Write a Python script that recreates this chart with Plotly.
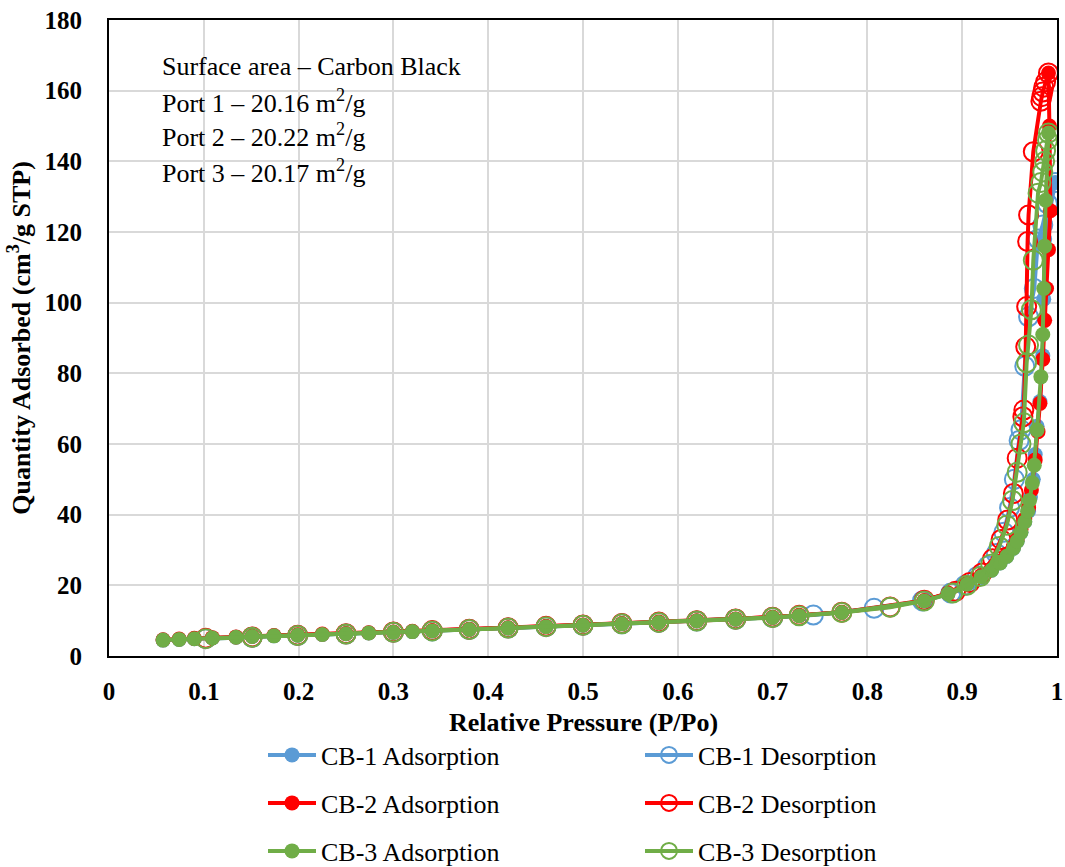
import plotly.graph_objects as go

# ---- isotherm data: relative pressure (P/Po) and quantity adsorbed (cm3/g STP) ----
cb1_ads_x = [0.057, 0.074, 0.090, 0.109, 0.134, 0.151, 0.174, 0.199, 0.225, 0.250, 0.274, 0.300,
             0.320, 0.341, 0.380, 0.421, 0.461, 0.500, 0.541, 0.580, 0.620, 0.661, 0.700, 0.728,
             0.773, 0.860, 0.885, 0.905, 0.920, 0.931, 0.940, 0.947, 0.954, 0.958, 0.962, 0.966,
             0.970, 0.972, 0.975, 0.977, 0.979, 0.982, 0.985, 0.986, 0.987, 0.998]
cb1_ads_y = [4.5, 4.7, 4.9, 5.1, 5.3, 5.5, 5.7, 5.9, 6.1, 6.3, 6.5, 6.7,
             6.9, 7.1, 7.5, 7.9, 8.3, 8.7, 9.1, 9.5, 9.9, 10.4, 10.9, 11.4,
             12.3, 15.6, 17.6, 20.3, 22.4, 24.3, 26.3, 28.2, 30.5, 32.5, 35.0, 38.0,
             41.0, 45.0, 50.0, 57.0, 65.0, 72.0, 85.0, 101.0, 118.0, 134.0]
cb1_des_x = [0.998, 0.990, 0.985, 0.980, 0.976, 0.970, 0.966, 0.962, 0.960, 0.955, 0.950, 0.944,
             0.936, 0.927, 0.916, 0.903, 0.888, 0.858, 0.807, 0.743, 0.700, 0.661, 0.620, 0.580,
             0.541, 0.500, 0.461, 0.421, 0.380, 0.341, 0.300, 0.250, 0.199, 0.151, 0.102]
cb1_des_y = [134.0, 128.0, 122.0, 118.0, 104.0, 96.0, 82.0, 64.0, 61.0, 50.0, 42.0, 35.0,
             29.0, 25.5, 22.5, 20.0, 17.8, 15.6, 13.5, 11.6, 10.9, 10.4, 9.9, 9.5,
             9.1, 8.7, 8.3, 7.9, 7.5, 7.1, 6.7, 6.2, 5.8, 5.3, 4.9]

cb2_ads_x = [0.057, 0.074, 0.090, 0.109, 0.134, 0.151, 0.174, 0.199, 0.225, 0.250, 0.274, 0.300,
             0.320, 0.341, 0.380, 0.421, 0.461, 0.500, 0.541, 0.580, 0.620, 0.661, 0.700, 0.728,
             0.773, 0.860, 0.885, 0.905, 0.920, 0.931, 0.940, 0.947, 0.954, 0.958, 0.962, 0.966,
             0.970, 0.973, 0.977, 0.980, 0.982, 0.985, 0.987, 0.989, 0.991, 0.993, 0.992, 0.991]
cb2_ads_y = [4.6, 4.8, 5.0, 5.2, 5.4, 5.6, 5.8, 6.0, 6.2, 6.4, 6.6, 6.8,
             7.0, 7.2, 7.6, 8.0, 8.4, 8.8, 9.2, 9.6, 10.0, 10.5, 11.0, 11.5,
             12.4, 15.7, 17.8, 20.6, 22.8, 24.7, 26.8, 28.8, 31.0, 33.2, 35.8, 38.8,
             42.0, 47.0, 55.5, 63.5, 71.5, 84.0, 95.0, 104.0, 115.0, 126.0, 150.0, 165.0]
cb2_des_x = [0.991, 0.988, 0.986, 0.985, 0.984, 0.983, 0.975, 0.970, 0.969, 0.968, 0.967, 0.965,
             0.964, 0.958, 0.954, 0.948, 0.941, 0.932, 0.921, 0.908, 0.893, 0.860, 0.824, 0.773,
             0.728, 0.700, 0.661, 0.620, 0.580, 0.541, 0.500, 0.461, 0.421, 0.380, 0.341, 0.300,
             0.250, 0.199, 0.151, 0.102]
cb2_des_y = [165.0, 162.5, 161.0, 159.6, 158.3, 157.0, 142.7, 124.8, 117.3, 98.9, 87.5, 69.6,
             67.7, 56.0, 46.0, 38.5, 33.0, 27.5, 23.5, 20.8, 18.3, 15.8, 13.9, 12.4,
             11.5, 11.0, 10.5, 10.0, 9.6, 9.2, 8.8, 8.4, 8.0, 7.6, 7.2, 6.8,
             6.3, 5.9, 5.4, 5.0]

cb3_ads_x = [0.057, 0.074, 0.090, 0.109, 0.134, 0.151, 0.174, 0.199, 0.225, 0.250, 0.274, 0.300,
             0.320, 0.341, 0.380, 0.421, 0.461, 0.500, 0.541, 0.580, 0.620, 0.661, 0.700, 0.728,
             0.773, 0.860, 0.885, 0.905, 0.920, 0.931, 0.940, 0.947, 0.954, 0.958, 0.962, 0.966,
             0.969, 0.971, 0.974, 0.976, 0.979, 0.983, 0.985, 0.986, 0.987, 0.988, 0.991]
cb3_ads_y = [4.5, 4.7, 4.9, 5.1, 5.3, 5.5, 5.7, 5.9, 6.1, 6.3, 6.5, 6.7,
             6.9, 7.1, 7.5, 7.9, 8.3, 8.7, 9.1, 9.5, 9.9, 10.4, 10.9, 11.4,
             12.3, 15.6, 17.6, 20.3, 22.4, 24.3, 26.3, 28.2, 30.5, 32.5, 35.0, 38.0,
             41.0, 44.0, 49.0, 54.0, 64.0, 79.0, 91.0, 104.0, 116.0, 129.0, 148.0]
cb3_des_x = [0.991, 0.990, 0.988, 0.987, 0.985, 0.983, 0.980, 0.975, 0.973, 0.970, 0.968, 0.965,
             0.962, 0.958, 0.953, 0.947, 0.939, 0.930, 0.919, 0.905, 0.890, 0.860, 0.824, 0.773,
             0.728, 0.700, 0.661, 0.620, 0.580, 0.541, 0.500, 0.461, 0.421, 0.380, 0.341, 0.300,
             0.250, 0.199, 0.151, 0.102]
cb3_des_y = [148.0, 146.0, 143.0, 140.0, 137.0, 134.0, 131.0, 112.0, 98.0, 88.0, 83.0, 66.0,
             60.0, 52.0, 44.0, 37.0, 31.0, 26.0, 22.5, 20.0, 17.8, 15.6, 13.8, 12.3,
             11.4, 10.9, 10.4, 9.9, 9.5, 9.1, 8.7, 8.3, 7.9, 7.5, 7.1, 6.7,
             6.2, 5.8, 5.3, 4.9]

annotation_lines = [
    "Surface area \u2013 Carbon Black",
    "Port 1 \u2013 20.16 m<sup>2</sup>/g",
    "Port 2 \u2013 20.22 m<sup>2</sup>/g",
    "Port 3 \u2013 20.17 m<sup>2</sup>/g",
]
x_title = "<b>Relative Pressure (P/Po)</b>"
y_title = "<b>Quantity Adsorbed (cm<sup>3</sup>/g STP)</b>"

BLUE, RED, GREEN = "#5B9BD5", "#FF0000", "#70AD47"
SERIF = "Times New Roman, Liberation Serif, serif"
W, H = 1065, 867

series = [
    ("CB-1 Adsorption", cb1_ads_x, cb1_ads_y, BLUE, False, "legend"),
    ("CB-1 Desorption", cb1_des_x, cb1_des_y, BLUE, True, "legend"),
    ("CB-2 Adsorption", cb2_ads_x, cb2_ads_y, RED, False, "legend2"),
    ("CB-2 Desorption", cb2_des_x, cb2_des_y, RED, True, "legend2"),
    ("CB-3 Adsorption", cb3_ads_x, cb3_ads_y, GREEN, False, "legend3"),
    ("CB-3 Desorption", cb3_des_x, cb3_des_y, GREEN, True, "legend3"),
]

fig = go.Figure()
for name, xs, ys, color, is_open, leg in series:
    if is_open:
        marker = dict(symbol="circle-open", size=19, color=color, line=dict(width=2, color=color))
    else:
        marker = dict(symbol="circle", size=15, color=color)
    fig.add_trace(go.Scatter(
        x=xs, y=ys, name=name, mode="lines+markers",
        line=dict(color=color, width=4), marker=marker, legend=leg,
    ))

# white box behind the surface-area notes
fig.add_shape(type="rect", xref="paper", yref="paper", layer="between",
              x0=0.035, x1=0.40, y0=(656 - 195) / 636, y1=(656 - 38) / 636,
              fillcolor="white", line=dict(width=0))
for i, txt in enumerate(annotation_lines):
    fig.add_annotation(
        text=txt, xref="paper", yref="paper", showarrow=False,
        x=(160 - 109) / 948, y=(656 - (66 + 35 * i)) / 636,
        xanchor="left", yanchor="middle", align="left",
        font=dict(family=SERIF, size=26, color="black"),
    )

# x-axis title placed below the tick labels
fig.add_annotation(
    text=x_title, xref="paper", yref="paper", showarrow=False,
    x=0.5, y=(656 - 722) / 636, xanchor="center", yanchor="middle",
    font=dict(family=SERIF, size=26, color="black"),
)

legend_common = dict(
    orientation="h", xref="container", yref="container",
    xanchor="left", yanchor="middle", x=263 / W,
    entrywidth=314, entrywidthmode="pixels",
    font=dict(family=SERIF, size=26, color="black"),
    bgcolor="rgba(0,0,0,0)", itemwidth=48, tracegroupgap=0,
)

fig.update_layout(
    width=W, height=H,
    margin=dict(l=109, r=8, t=20, b=211, autoexpand=False),
    paper_bgcolor="white", plot_bgcolor="white",
    font=dict(family=SERIF, color="black"),
    legend=dict(**legend_common, y=(H - 755) / H),
    legend2=dict(**legend_common, y=(H - 803) / H),
    legend3=dict(**legend_common, y=(H - 851) / H),
    xaxis=dict(
        range=[0, 1], dtick=0.1, tick0=0,
        showgrid=True, gridcolor="#D9D9D9", gridwidth=2,
        showline=True, linecolor="black", linewidth=2, mirror=True,
        ticks="", zeroline=False, ticklabelstandoff=12,
        tickfont=dict(family=SERIF, size=25, color="black", weight="bold"),
    ),
    yaxis=dict(
        range=[0, 180], dtick=20, tick0=0,
        showgrid=True, gridcolor="#D9D9D9", gridwidth=2,
        showline=True, linecolor="black", linewidth=2, mirror=True,
        ticks="", zeroline=False, ticklabelstandoff=20,
        tickfont=dict(family=SERIF, size=25, color="black", weight="bold"),
        title=dict(text=y_title, standoff=6,
                   font=dict(family=SERIF, size=26, color="black")),
    ),
)

fig.write_html("out.html")
